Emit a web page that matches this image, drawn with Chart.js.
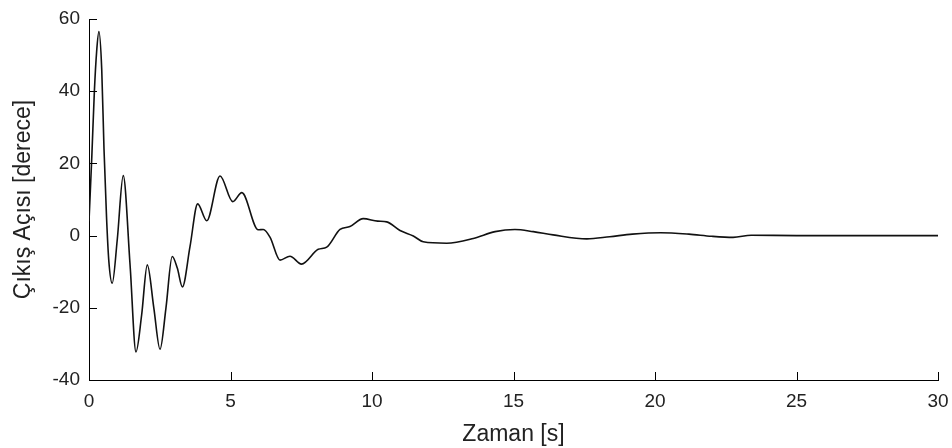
<!DOCTYPE html>
<html>
<head>
<meta charset="utf-8">
<title>Çıkış Açısı</title>
<script src="https://cdn.jsdelivr.net/npm/chart.js@4"></script>
<style>
  html, body { margin: 0; padding: 0; background: #fff; }
  #wrap { position: relative; width: 952px; height: 448px; }
</style>
</head>
<body>
<div id="wrap"><canvas id="chart"></canvas></div>
<script>
// time samples [s] and output angle [degree]
const times = [
  0, 0.1, 0.19, 0.27, 0.35, 0.45, 0.53, 0.62, 0.7, 0.82,
  1.0, 1.21, 1.45, 1.66, 1.86, 2.06, 2.29, 2.51, 2.72, 2.94,
  3.12, 3.3, 3.57, 3.84, 4.16, 4.63, 5.08, 5.4, 5.98, 6.16,
  6.4, 6.75, 7.1, 7.51, 8.1, 8.4, 8.87, 9.22, 9.69, 10.2,
  10.52, 10.99, 11.46, 11.81, 12.64, 13.58, 14.35, 15.05, 15.7, 16.4,
  17.59, 18.4, 19.2, 20.2, 21.2, 22.0, 22.76, 23.4, 25, 30
];
const angles = [
  4, 22, 40, 51, 56.5, 46, 24, 5, -7, -13.2,
  -1, 16.6, -8, -32.2, -22, -8.1, -20, -31.5, -20, -5.8,
  -9, -14.2, -3, 8.8, 4.1, 16.5, 9.4, 11.9, 1.6, 1.7,
  -0.5, -6.8, -5.7, -7.9, -3.8, -3.2, 1.7, 2.5, 4.7, 4.0,
  3.8, 1.4, -0.1, -1.7, -2.1, -0.8, 1.1, 1.7, 1.1, 0.2,
  -0.9, -0.3, 0.4, 0.8, 0.4, -0.2, -0.5, 0.1, 0, 0
];

const xTitle = "Zaman [s]";
const yTitle = "Çıkış Açısı [derece]";

const points = times.map((t, i) => ({ x: t, y: angles[i] }));

const textColor = "#222";
const tickFont = { family: "'Liberation Sans', Arial, sans-serif", size: 19 };
const titleFont = { family: "'Liberation Sans', Arial, sans-serif", size: 23 };

// short tick marks pointing into the plot, like the classic matlab axes
const innerTicks = {
  id: "innerTicks",
  afterDraw(chart) {
    const { ctx, chartArea, scales } = chart;
    const len = 8;
    ctx.save();
    ctx.strokeStyle = "#000";
    ctx.lineWidth = 1;
    ctx.beginPath();
    scales.x.ticks.forEach((t) => {
      const px = Math.round(scales.x.getPixelForValue(t.value)) + 0.5;
      ctx.moveTo(px, chartArea.bottom);
      ctx.lineTo(px, chartArea.bottom - len);
    });
    scales.y.ticks.forEach((t) => {
      const py = Math.round(scales.y.getPixelForValue(t.value)) + 0.5;
      ctx.moveTo(chartArea.left, py);
      ctx.lineTo(chartArea.left + len, py);
    });
    ctx.stroke();
    ctx.restore();
  },
};

new Chart(document.getElementById("chart"), {
  type: "line",
  data: {
    datasets: [{
      data: points,
      borderColor: "#111",
      borderWidth: 1.6,
      pointRadius: 0,
      fill: false,
      cubicInterpolationMode: "monotone",
    }],
  },
  options: {
    responsive: true,
    maintainAspectRatio: false,
    animation: false,
    layout: { padding: { top: 19, right: 14, left: 0, bottom: 0 } },
    plugins: {
      legend: { display: false },
      tooltip: { enabled: false },
    },
    scales: {
      x: {
        type: "linear",
        min: 0,
        max: 30,
        afterFit: (s) => { s.height = 68; s.paddingLeft = 0; s.paddingRight = 0; },
        ticks: { stepSize: 5, color: textColor, font: tickFont, padding: 10, maxRotation: 0 },
        grid: { display: false, drawTicks: false },
        border: { display: true, color: "#000", width: 1 },
        title: { display: true, text: xTitle, color: textColor, font: titleFont, padding: 0 },
      },
      y: {
        min: -40,
        max: 60,
        afterFit: (s) => { s.width = 89; s.paddingTop = 0; s.paddingBottom = 0; },
        ticks: { stepSize: 20, color: textColor, font: tickFont, padding: 9 },
        grid: { display: false, drawTicks: false },
        border: { display: true, color: "#000", width: 1 },
        title: { display: true, text: yTitle, color: textColor, font: titleFont, padding: { top: 10, bottom: 0 } },
      },
    },
  },
  plugins: [innerTicks],
});
</script>
</body>
</html>
